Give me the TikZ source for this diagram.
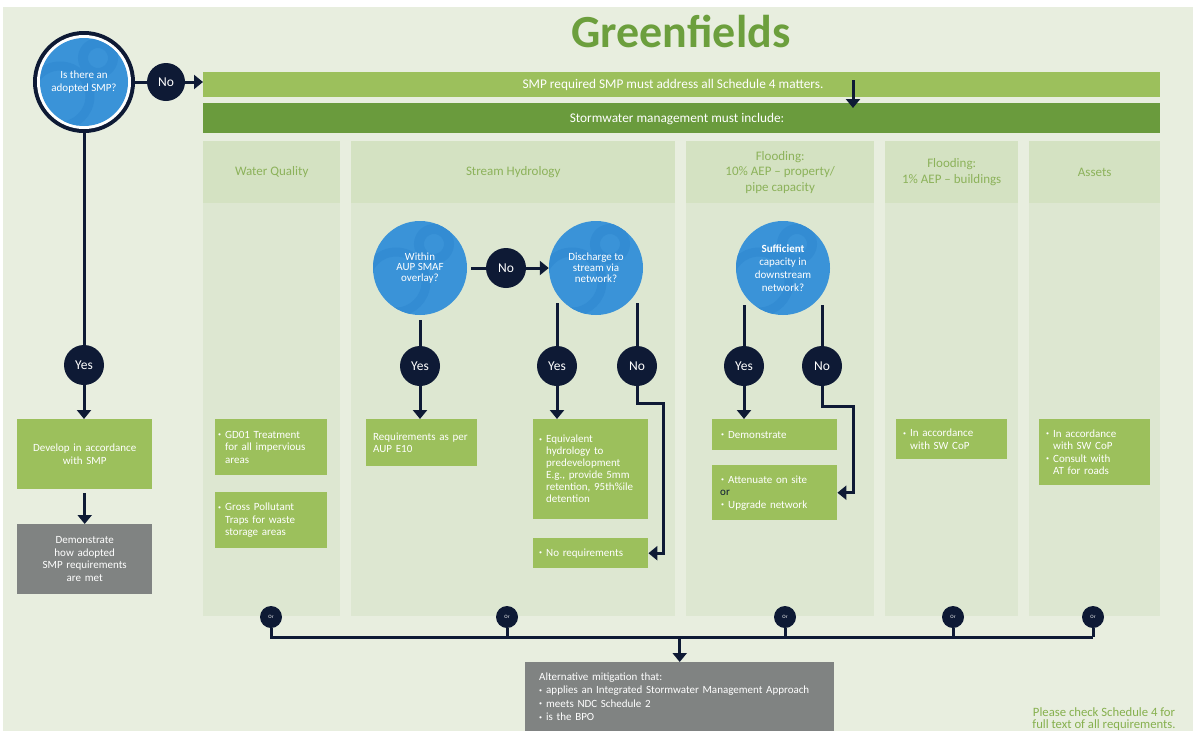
\documentclass[tikz,border=0pt]{standalone}
\usepackage{fontspec}
\setmainfont{Carlito}
\usetikzlibrary{arrows.meta}
\definecolor{bgc}{HTML}{E8EEDF}
\definecolor{hdrc}{HTML}{D4E2C2}
\definecolor{bodyc}{HTML}{DDE7D1}
\definecolor{lgreen}{HTML}{9CC05C}
\definecolor{dgreen}{HTML}{6A9B3D}
\definecolor{titleg}{HTML}{6C9F3D}
\definecolor{hdrtext}{HTML}{8CB25A}
\definecolor{noteg}{HTML}{86B04E}
\definecolor{navy}{HTML}{0E1A35}
\definecolor{qblue}{HTML}{3A93D8}
\definecolor{swirlc}{HTML}{338CD3}
\definecolor{grayb}{HTML}{808382}
\newcommand{\fsz}[2]{\fontsize{#1}{#2}\selectfont}
\newcommand{\mybul}{\makebox[7pt][l]{\raisebox{.25ex}{\fontsize{6}{6}\selectfont\textbullet}}}
\newcommand{\myind}{\hspace*{7pt}}
\begin{document}
\begin{tikzpicture}[x=1pt,y=-1pt,
  conn/.style={draw=navy,line width=3pt},
  arr/.style={conn,-{Triangle[width=14pt,length=9pt]}},
  gbox/.style={fill=lgreen,text=white,inner ysep=0pt,anchor=north west,align=left,font=\fsz{11}{12.5}},
  graybox/.style={fill=grayb,text=white,inner ysep=0pt,anchor=north west,font=\fsz{11}{12.5}},
  hdr/.style={fill=hdrc,text=hdrtext,anchor=north west,inner sep=0pt,minimum height=62pt,align=center,font=\fsz{13}{15.5}},
  qcirc/.style={circle,fill=qblue,text=white,inner sep=0pt,align=center,
    path picture={
      \draw[swirlc,line width=10pt] (path picture bounding box.center) ++(14,-24) circle (15);
      \draw[swirlc,line width=9pt] (path picture bounding box.center) ++(-24,14) circle (30);
    }},
  dec/.style={circle,fill=navy,text=white,inner sep=0pt,minimum size=40pt,font=\fsz{13.5}{14}},
  orc/.style={circle,fill=navy,text=white,inner sep=0pt,minimum size=22pt,font=\fsz{5}{5}},
]
\useasboundingbox (0,0) rectangle (1193,731);
\fill[white] (0,0) rectangle (1193,731);
\fill[bgc] (3,7) rectangle (1193,731);

% title
\node[font=\fsz{46}{50}\bfseries,text=titleg] (title) at (681,31) {Greenfields};

% bars
\node[fill=lgreen,minimum width=957pt,minimum height=25pt,inner sep=0pt,anchor=north west] (bar1) at (203,72) {};
\node[text=white,font=\fsz{13.3}{15}] (bar1t) at (673,85) {SMP required SMP must address all Schedule 4 matters.};
\node[fill=dgreen,minimum width=957pt,minimum height=30pt,inner sep=0pt,anchor=north west] (bar2) at (203,103) {};
\node[text=white,font=\fsz{13.3}{15}] (bar2t) at (677,119) {Stormwater management must include:};
\coordinate (a1s) at (853,80);
\coordinate (a1e) at (853,108);
\draw[arr] (a1s) -- (a1e);

% columns
\fill[bodyc] (203,203) rectangle (340,616);
\fill[bodyc] (351,203) rectangle (675,616);
\fill[bodyc] (686,203) rectangle (874,616);
\fill[bodyc] (885,203) rectangle (1018,616);
\fill[bodyc] (1029,203) rectangle (1160,616);
\node[hdr,minimum width=137pt] (h1) at (203,141) {Water Quality};
\node[hdr,minimum width=324pt] (h2) at (351,141) {Stream Hydrology};
\node[hdr,minimum width=188pt] (h3) at (686,141) {Flooding:\\10\% AEP – property/\\pipe capacity};
\node[hdr,minimum width=133pt] (h4) at (885,141) {Flooding:\\1\% AEP – buildings};
\node[hdr,minimum width=131pt] (h5) at (1029,141) {Assets};

% top-left question
\node[circle,fill=navy,minimum size=102pt,inner sep=0pt] (q0ring) at (84,82) {};
\fill[white] (84,82) circle (47);
\node[qcirc,minimum size=88pt,font=\fsz{11}{13}] (q0) at (84,82) {Is there an\\adopted SMP?};
\node[dec,minimum size=38pt] (no0) at (166,82) {No};
\draw[conn] (q0ring.east) -- (no0.west);
\draw[arr] (no0.east) -- (no0.east -| bar1.west);

% left column
\node[dec] (y0) at (84,365) {Yes};
\draw[conn] (q0ring.south) -- (y0.north);
\node[gbox,align=center,text width=127pt,inner xsep=4pt,minimum height=70pt] (dev) at (17,419) {Develop in accordance\\with SMP};
\node[graybox,align=center,text width=127pt,inner xsep=4pt,minimum height=70pt] (demo) at (17,524) {Demonstrate\\how adopted\\SMP requirements\\are met};
\draw[arr] (y0.south) -- (y0.south |- dev.north);
\draw[arr,shorten <=4pt] (dev.south) -- (demo.north);

% water quality
\node[gbox,text width=106pt,inner xsep=3pt,minimum height=56pt] (wq1) at (215,419) {\mybul GD01 Treatment\\\myind for all impervious\\\myind areas};
\node[gbox,text width=106pt,inner xsep=3pt,minimum height=56pt] (wq2) at (215,492) {\mybul Gross Pollutant\\\myind Traps for waste\\\myind storage areas};

% stream hydrology
\node[qcirc,minimum size=94pt,font=\fsz{11}{10.8}] (q1) at (420,268) {Within\\AUP SMAF\\overlay?};
\node[qcirc,minimum size=94pt,font=\fsz{11}{10.8}] (q2) at (596,268) {Discharge to\\stream via\\network?};
\node[dec] (no1) at (506,268) {No};
\draw[conn,shorten <=4pt] (q1.east) -- (no1.west);
\draw[arr] (no1.east) -- (q2.west);
\node[dec] (y1) at (420,366) {Yes};
\node[dec] (y2) at (557,366) {Yes};
\node[dec] (n2) at (637,366) {No};
\coordinate (s1) at (420,320);
\coordinate (s2) at (557,303);
\coordinate (s3) at (637,303);
\draw[conn] (s1) -- (y1.north);
\draw[conn] (s2) -- (y2.north);
\draw[conn] (s3) -- (n2.north);
\node[gbox,text width=97pt,inner xsep=7pt,minimum height=47pt] (req) at (366,419) {Requirements as per\\AUP E10};
\node[gbox,text width=103pt,inner xsep=6pt,minimum height=100pt,font=\fsz{11}{12}] (eq) at (533,419) {\mybul Equivalent\\\myind hydrology to\\\myind predevelopment\\\myind E.g., provide 5mm\\\myind retention, 95th\%ile\\\myind detention};
\node[gbox,text width=103pt,inner xsep=6pt,minimum height=30pt] (nr) at (533,538) {\mybul No requirements};
\draw[arr] (y1.south) -- (y1.south |- req.north);
\draw[arr] (y2.south) -- (y2.south |- eq.north);
\coordinate (k2) at (663,403);
\draw[arr,line join=miter] (n2.south) |- (k2) |- (nr.east);

% flooding 10%
\node[qcirc,minimum size=94pt,font=\fsz{11}{13}] (q3) at (783,268) {\textbf{Sufficient}\\capacity in\\downstream\\network?};
\node[dec] (y3) at (744,366) {Yes};
\node[dec] (n3) at (822,366) {No};
\coordinate (s4) at (744,305);
\coordinate (s5) at (822,305);
\draw[conn] (s4) -- (y3.north);
\draw[conn] (s5) -- (n3.north);
\node[gbox,text width=117pt,inner xsep=4pt,minimum height=31pt] (dem) at (712,419) {\hspace*{5pt}\mybul Demonstrate};
\node[gbox,text width=117pt,inner xsep=4pt,minimum height=55pt] (att) at (712,465) {\hspace*{5pt}\mybul Attenuate on site\\\hspace*{4pt}{\color{navy}or}\\\hspace*{5pt}\mybul Upgrade network};
\draw[arr] (y3.south) -- (y3.south |- dem.north);
\coordinate (k3) at (853,406);
\draw[arr,line join=miter] (n3.south) |- (k3) |- (att.east);

% flooding 1%
\node[gbox,text width=97pt,inner xsep=7pt,minimum height=40pt] (f1) at (896,419) {\mybul In accordance\\\myind with SW CoP};

% assets
\node[gbox,text width=97pt,inner xsep=7pt,minimum height=66pt] (as) at (1039,419) {\mybul In accordance\\\myind with SW CoP\\\mybul Consult with\\\myind AT for roads};

% or circles and bottom
\coordinate (hl) at (0,637);
\node[orc] (or1) at (271,617) {Or};
\node[orc] (or2) at (507,617) {Or};
\node[orc] (or3) at (785,617) {Or};
\node[orc] (or4) at (953,617) {Or};
\node[orc] (or5) at (1093,617) {Or};
\draw[conn,line join=miter] (or1.south) |- (hl -| or5);
\draw[conn] (or2.south) -- (or2 |- hl);
\draw[conn] (or3.south) -- (or3 |- hl);
\draw[conn] (or4.south) -- (or4 |- hl);
\draw[conn] (or5.south) -- (or5 |- hl);
\node[graybox,align=left,text width=281pt,inner xsep=14pt,minimum height=69pt,font=\fsz{11}{13.5}] (alt) at (525,662) {Alternative mitigation that:\\\mybul applies an Integrated Stormwater Management Approach\\\mybul meets NDC Schedule 2\\\mybul is the BPO};
\draw[arr] (alt.north |- hl) -- (alt.north);

\node[align=center,text=noteg,font=\fsz{12.7}{12.5}] (note) at (1104,719) {Please check Schedule 4 for\\full text of all requirements.};
\end{tikzpicture}
\end{document}
